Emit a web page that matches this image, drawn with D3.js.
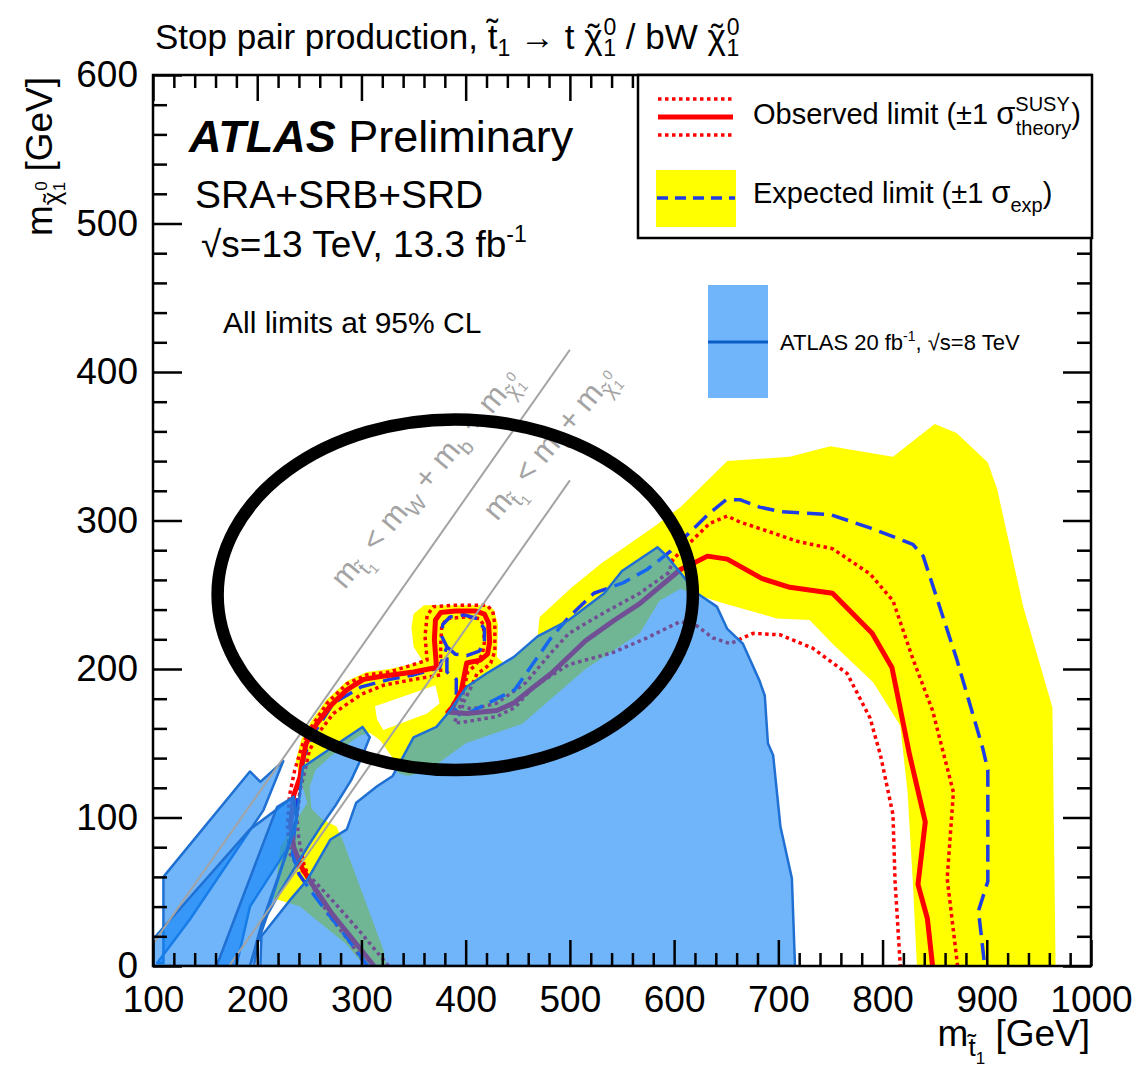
<!DOCTYPE html>
<html>
<head>
<meta charset="utf-8">
<script src="https://cdn.jsdelivr.net/npm/d3@7"></script>
<style>
body { margin: 0; background: #fff; }
text { font-family: "Liberation Sans", Arial, Helvetica, sans-serif; fill: #000; }
</style>
</head>
<body>
<svg id="chart" width="1138" height="1084"></svg>
<script>

// ---------- data, all in GeV (x = stop mass, y = neutralino mass) ----------

var xMajor = [100, 200, 300, 400, 500, 600, 700, 800, 900, 1000];
var yMajor = [0, 100, 200, 300, 400, 500, 600];

// observed limit, nominal
var obsLimit = [[312,0],[295,15],[272,35],[250,58],[243,66],[235,80],[232,95],[235,115],[241,127],[243,137],[247,150],[257,163],[270,175],[286,186],[302,193],[318,195],[350,198],[372,201],[370,220],[371,233],[376,238],[390,239],[410,239],[418,237],[422,231],[423,218],[421,210],[414,206],[401,204],[396,186],[388,175],[383,171],[401,170],[430,172],[446,177],[462,186],[482,197],[515,219],[543,233],[567,244],[606,267],[618,271],[632,276],[651,274],[684,261],[711,255],[752,251],[790,224],[809,201],[826,142],[841,97],[834,55],[843,32],[848,0]];

// observed limit +1 sigma theory
var obsUp = [[326,0],[300,22],[275,42],[255,57],[240,66],[231,76],[229,95],[231,115],[236,132],[244,150],[252,161],[267,177],[286,190],[305,196],[327,198],[350,203],[363,206],[361,222],[363,236],[369,242],[390,243],[420,243],[426,239],[428,230],[428,212],[424,204],[418,200],[411,197],[404,186],[396,175],[406,173],[430,177],[458,191],[482,211],[499,224],[533,238],[567,251],[595,265],[599,274],[615,285],[634,298],[651,303],[663,299],[689,293],[718,286],[752,281],[788,264],[810,246],[829,207],[848,172],[868,117],[862,59],[872,0]];

// observed limit -1 sigma theory
var obsDown = [[305,0],[290,15],[268,35],[252,55],[245,68],[240,85],[238,100],[241,118],[246,132],[250,145],[259,157],[273,170],[300,183],[321,189],[350,193],[376,196],[376,215],[377,229],[382,234],[400,235],[413,234],[417,230],[418,218],[416,210],[410,203],[402,198],[398,185],[393,170],[389,164],[396,164],[430,168],[447,174],[465,188],[499,203],[541,211],[574,221],[606,232],[622,229],[637,221],[654,217],[666,221],[676,224],[702,223],[733,214],[766,197],[788,167],[798,142],[810,102],[812,57],[817,0]];

// expected limit
var expLimit = [[306,0],[285,20],[265,38],[250,52],[240,62],[234,75],[236,95],[240,120],[245,141],[252,154],[273,177],[300,188],[327,193],[350,196],[375,201],[382,215],[377,222],[378,230],[385,235],[398,236.5],[411,234],[418,227],[418,218],[413,212],[401,209],[390,210],[382,215],[382,198],[391,193],[391,181],[387,175],[396,168],[413,174],[447,186],[465,204],[482,221],[499,235],[523,251],[551,258],[574,267],[596,279],[615,292],[634,305],[650,314],[663,314],[682,309],[702,306],[750,304],[788,295],[829,284],[839,276],[871,207],[896,147],[901,132],[901,57],[892,37],[895,19],[898,0]];

// expected +-1 sigma band: outer edge and holes
var bandOuter = [[966,0],[963,174],[935,242],[910,321],[901,339],[871,359],[850,365],[810,343],[750,350],[711,343],[651,340],[606,309],[581,296],[530,271],[502,255],[471,235],[469,222],[446,207],[438,203],[430,208],[431,230],[427,240],[420,243],[360,243],[350,237],[348,228],[350,215],[359,205],[327,200],[305,198],[286,192],[266,179],[251,164],[242,152],[237,138],[242,125],[248,110],[235,95],[222,80],[218,55],[214,46],[241,40],[285,15],[303,0]];
var bandHoleA = [[324,0],[321,11],[283,83],[276,94],[262,99],[252,106],[250,120],[256,132],[270,141],[284,148],[298,155],[308,157],[318,152],[330,140],[335,130],[345,128],[365,132],[400,150],[454,163],[515,200],[567,224],[586,246],[606,254],[622,250],[644,245],[699,234],[730,233],[752,217],[791,191],[817,162],[824,117],[829,57],[833,0]];
var bandHoleB = [[313,175],[371,189],[375,177],[363,170],[321,159],[315,166]];

// ATLAS 8 TeV excluded regions
var run1Main = [[203,0],[716,0],[713,59],[702,94],[695,142],[690,150],[687,182],[682,192],[666,217],[651,227],[641,242],[622,251],[593,276],[584,282],[550,266],[533,251],[499,233],[469,222],[446,208],[420,197],[401,188],[385,172],[372,161],[350,154],[330,128],[315,121],[295,110],[286,92],[270,85],[248,58],[231,44],[204,20]];
var run1Mid = [[244,134],[282,152],[301,161],[308,154],[300,140],[290,125],[275,108],[262,95],[250,82],[235,65],[222,50],[210,35],[200,15],[197,0],[193,0],[205,30],[220,60],[232,85],[238,100]];
var run1Left = [[110,2],[110,60],[193,131],[203,124],[225,138],[206,105],[135,31],[104,2]];
var run1Low = [[100,0],[100,18],[193,92],[235,114],[238,100],[228,78],[193,40],[180,0]];
var run1Narrow = [[161,0],[219,107],[235,114],[238,97],[193,0]];

// kinematic limits
var lineWb = [[100,15],[500,415]];
var lineTop = [[173,0],[500,327]];

// ellipse drawn on the figure (centre, radii in GeV)
var ringCentre = [390, 250];
var ringRadii = [228, 118];

// ---------- setup ----------

var svg = d3.select("#chart");
var x = d3.scaleLinear().domain([100, 1000]).range([153, 1091]);
var y = d3.scaleLinear().domain([0, 600]).range([966, 75]);
var line = d3.line().x(function(d){ return x(d[0]); }).y(function(d){ return y(d[1]); });

var run1Fill = "rgba(16,131,246,0.6)";
var run1Edge = "#1f70d2";
var red = "#ff0000";
var blue = "#1e3ce6";

svg.append("rect").attr("width", 1138).attr("height", 1084).attr("fill", "#fff");

svg.append("clipPath").attr("id", "plotclip")
   .append("rect").attr("x", 153).attr("y", 75).attr("width", 938).attr("height", 891);

var plot = svg.append("g").attr("clip-path", "url(#plotclip)");

// rich text helper (sub/superscripts via tspans)
function rich(g, px, py, size, parts){
  var t = g.append("text").attr("x", px).attr("y", py).style("font-size", size + "px");
  parts.forEach(function(p){
    if (typeof p === "string") p = {t: p};
    var ts = t.append("tspan").text(p.t);
    ts.style("font-size", (p.s || size) + "px");
    if (p.dy) ts.attr("dy", p.dy);
    if (p.dx) ts.attr("dx", p.dx);
    if (p.b) ts.style("font-weight", "bold");
    if (p.i) ts.style("font-style", "italic");
  });
  return t;
}

// chi with a tilde on top, as two tspans; returns parts, caller adds 0.08em before next part
function chiT(size, dy){
  return [{t:"\u03c7", s:size, dy:dy || 0}, {t:"\u02dc", s:size, dx:-0.42 * size}];
}

// ---------- yellow band ----------
plot.append("path")
    .attr("d", line(bandOuter) + "Z" + line(bandHoleA) + "Z" + line(bandHoleB) + "Z")
    .attr("fill", "#ffff00")
    .attr("fill-rule", "evenodd");

// ---------- contours ----------
function contour(data, color, width, dash){
  plot.append("path")
      .attr("d", line(data))
      .attr("fill", "none")
      .attr("stroke", color)
      .attr("stroke-width", width)
      .attr("stroke-dasharray", dash)
      .attr("stroke-linejoin", "round");
}
contour(obsDown, red, 3.5, "3.5,3.5");
contour(obsUp, red, 3.5, "3.5,3.5");
contour(expLimit, blue, 3.5, "17,8");
contour(obsLimit, red, 5, null);

// ---------- 8 TeV regions, drawn see-through on top ----------
[run1Left, run1Low, run1Narrow, run1Mid, run1Main].forEach(function(poly){
  plot.append("path")
      .attr("d", line(poly) + "Z")
      .attr("fill", run1Fill)
      .attr("stroke", run1Edge)
      .attr("stroke-width", 2.5)
      .attr("stroke-linejoin", "round");
});

// ---------- kinematic lines ----------
[lineWb, lineTop].forEach(function(l){
  plot.append("path").attr("d", line(l))
      .attr("stroke", "#a3a3a3").attr("stroke-width", 2).attr("fill", "none");
});

var grayText = svg.append("g");
function kinLabel(pos, parts){
  var g = grayText.append("g")
      .attr("transform", "translate(" + x(pos[0]) + "," + y(pos[1]) + ") rotate(-50)");
  rich(g, 0, 0, 31, parts).style("fill", "#a3a3a3").selectAll("tspan").style("fill", "#a3a3a3");
}
kinLabel([284, 253], ["m", {t:"t\u0303", s:21, dy:8}, {t:"1", s:14, dy:5}, {t:" < m", dy:-13}, {t:"W", s:21, dy:8},
  {t:" + m", dy:-8}, {t:"b", s:21, dy:8}, {t:" + m", dy:-8}].concat(chiT(21, 8),
  [{t:"0", s:14, dx:3, dy:-13}, {t:"1", s:14, dx:-8, dy:15}]));
kinLabel([430, 299], ["m", {t:"t\u0303", s:21, dy:8}, {t:"1", s:14, dy:5}, {t:" < m", dy:-13}, {t:"t", s:21, dy:8},
  {t:" + m", dy:-8}].concat(chiT(21, 8), [{t:"0", s:14, dx:3, dy:-13}, {t:"1", s:14, dx:-8, dy:15}]));

// ---------- axes ----------
var xMinor = d3.range(100, 1001, 20).filter(function(v){ return v % 100 !== 0; });
var yMinor = d3.range(0, 601, 20).filter(function(v){ return v % 100 !== 0; });

function styleAxis(g){
  g.select(".domain").remove();
  g.selectAll("line").attr("stroke", "#000").attr("stroke-width", 2.5);
  g.selectAll("text").style("font-size", "37px").attr("fill", "#000")
   .style("font-family", "'Liberation Sans', Arial, Helvetica, sans-serif");
}

svg.append("g").attr("transform", "translate(0,966)")
   .call(d3.axisBottom(x).tickValues(xMajor).tickSize(-26).tickPadding(20).tickFormat(d3.format("d")))
   .call(styleAxis);
svg.append("g").attr("transform", "translate(0,966)")
   .call(d3.axisBottom(x).tickValues(xMinor).tickSize(-13).tickFormat(""))
   .call(styleAxis);
svg.append("g").attr("transform", "translate(0,75)")
   .call(d3.axisTop(x).tickValues(xMajor).tickSize(-26).tickFormat(""))
   .call(styleAxis);
svg.append("g").attr("transform", "translate(0,75)")
   .call(d3.axisTop(x).tickValues(xMinor).tickSize(-13).tickFormat(""))
   .call(styleAxis);
svg.append("g").attr("transform", "translate(153,0)")
   .call(d3.axisLeft(y).tickValues(yMajor).tickSize(-29).tickPadding(15).tickFormat(d3.format("d")))
   .call(styleAxis);
svg.append("g").attr("transform", "translate(153,0)")
   .call(d3.axisLeft(y).tickValues(yMinor).tickSize(-14).tickFormat(""))
   .call(styleAxis);
svg.append("g").attr("transform", "translate(1091,0)")
   .call(d3.axisRight(y).tickValues(yMajor).tickSize(-28).tickFormat(""))
   .call(styleAxis);
svg.append("g").attr("transform", "translate(1091,0)")
   .call(d3.axisRight(y).tickValues(yMinor).tickSize(-14).tickFormat(""))
   .call(styleAxis);

svg.append("rect").attr("x", 153).attr("y", 75).attr("width", 938).attr("height", 891)
   .attr("fill", "none").attr("stroke", "#000").attr("stroke-width", 2.5);

// axis titles
rich(svg, 1090, 1046, 37, ["m", {t:"t\u0303", s:26, dy:10}, {t:"1", s:17, dy:8}, {t:" [GeV]", dy:-18}])
  .attr("text-anchor", "end");
var yt = svg.append("g").attr("transform", "translate(52,77) rotate(-90)");
rich(yt, 0, 0, 37, ["m"].concat(chiT(26, 9), [{t:"0", s:17, dx:3, dy:-14}, {t:"1", s:17, dx:-10, dy:18}, {t:" [GeV]", dy:-13}]))
  .attr("text-anchor", "end");

// title
rich(svg, 155, 49, 35, ["Stop pair production, t\u0303", {t:"1", s:23, dy:7}, {t:" \u2192 t ", dy:-7}]
  .concat(chiT(35), [{t:"0", s:23, dx:4, dy:-14}, {t:"1", s:23, dx:-13, dy:21}, {t:" / bW ", dy:-7}],
          chiT(35), [{t:"0", s:23, dx:4, dy:-14}, {t:"1", s:23, dx:-13, dy:21}]));

// ATLAS labels
rich(svg, 189, 152, 45, [{t:"ATLAS", b:true, i:true}, " Preliminary"]);
rich(svg, 195, 208, 39, ["SRA+SRB+SRD"]);
rich(svg, 201, 257, 37, ["\u221as=13 TeV, 13.3 fb", {t:"-1", s:23, dy:-15}]);
rich(svg, 223, 333, 30, ["All limits at 95% CL"]);

// ---------- legend ----------
svg.append("rect").attr("x", 638).attr("y", 75).attr("width", 454).attr("height", 163)
   .attr("fill", "#fff").attr("stroke", "#000").attr("stroke-width", 2.5);
[99, 135].forEach(function(ly){
  svg.append("line").attr("x1", 658).attr("x2", 733).attr("y1", ly).attr("y2", ly)
     .attr("stroke", red).attr("stroke-width", 3.5).attr("stroke-dasharray", "3.5,3.5");
});
svg.append("line").attr("x1", 658).attr("x2", 733).attr("y1", 117).attr("y2", 117)
   .attr("stroke", red).attr("stroke-width", 5);
svg.append("rect").attr("x", 656).attr("y", 170).attr("width", 80).attr("height", 57).attr("fill", "#ffff00");
svg.append("line").attr("x1", 657).attr("x2", 735).attr("y1", 198).attr("y2", 198)
   .attr("stroke", blue).attr("stroke-width", 3.5).attr("stroke-dasharray", "11,7");
rich(svg, 753, 124, 29, ["Observed limit (\u00b11 ", {t:"\u03c3", s:31}, {t:"SUSY", s:20, dy:-13},
  {t:"theory", s:20, dx:-54, dy:24}, {t:")", dy:-11}]);
rich(svg, 753, 203, 29, ["Expected limit (\u00b11 ", {t:"\u03c3", s:31}, {t:"exp", s:20, dy:9}, {t:")", dy:-9}]);

// 8 TeV legend
svg.append("rect").attr("x", 708).attr("y", 285).attr("width", 60).attr("height", 113).attr("fill", run1Fill);
svg.append("line").attr("x1", 708).attr("x2", 768).attr("y1", 342).attr("y2", 342)
   .attr("stroke", "#0b5cc4").attr("stroke-width", 3);
rich(svg, 780, 350, 22, ["ATLAS 20 fb", {t:"-1", s:14, dy:-9}, {t:", \u221as=8 TeV", dy:9}]);

// ---------- ellipse ----------
svg.append("ellipse")
   .attr("cx", x(ringCentre[0])).attr("cy", y(ringCentre[1]))
   .attr("rx", x(ringCentre[0] + ringRadii[0]) - x(ringCentre[0]))
   .attr("ry", y(ringCentre[1] - ringRadii[1]) - y(ringCentre[1]))
   .attr("fill", "none").attr("stroke", "#000").attr("stroke-width", 12.5);

</script>
</body>
</html>
